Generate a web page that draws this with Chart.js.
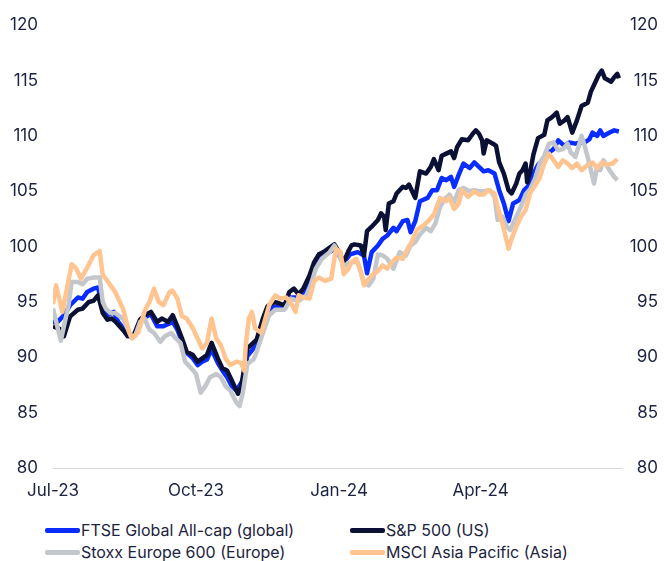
<!DOCTYPE html>
<html lang="en">
<head>
    <meta charset="UTF-8">
    <title>Equity indices</title>
    <script src="https://cdn.jsdelivr.net/npm/chart.js@4.4.1/dist/chart.umd.min.js"></script>
    <style>
        body { margin: 0; background: #fff; font-family: Inter, sans-serif; color: #1c2340; }
        #wrap { position: relative; width: 666px; height: 561px; }
        #legend { position: absolute; left: 45px; top: 520px; width: 620px; }
        .item { position: absolute; display: flex; align-items: center; font-size: 16px; white-space: nowrap; }
        .swatch { width: 35px; height: 5px; border-radius: 2px; margin-right: 1px; }
    </style>
    <script>
        // days counted from 1 Jul 2023
        var tickDays = [0, 92, 184, 275];
        var tickLabels = ['Jul-23', 'Oct-23', 'Jan-24', 'Apr-24'];
        var seriesNames = ['FTSE Global All-cap (global)', 'S&P 500 (US)', 'Stoxx Europe 600 (Europe)', 'MSCI Asia Pacific (Asia)'];
        var seriesColors = ['#0a2dff', '#0b1035', '#c3c7cc', '#ffc48f'];

        var ftseDays = [0, 3, 7, 11, 16, 19, 22, 26, 29, 32, 35, 39, 42, 47, 50, 53, 56, 59, 63, 67, 71, 77, 80, 83, 86, 90, 93, 96, 99, 102, 106, 109, 112, 115, 118, 122, 125, 129, 131, 135, 138, 142, 149, 153, 157, 161, 166, 169, 174, 179, 182, 186, 189, 191, 196, 200, 202, 205, 209, 212, 215, 219, 221, 225, 228, 230, 233, 236, 241, 244, 247, 250, 253, 256, 258, 261, 264, 268, 271, 274, 277, 280, 284, 287, 290, 293, 296, 300, 303, 306, 309, 312, 316, 319, 322, 325, 329, 332, 336, 339, 342, 345, 347, 350, 352, 354, 358, 361, 364];
        var ftseValues = [93.2, 93.2, 93.8, 94.7, 95.4, 95.3, 95.9, 96.2, 96.3, 94.4, 93.8, 94.1, 93.2, 92.3, 91.9, 92.0, 93.2, 93.6, 93.9, 92.8, 92.8, 93.2, 92.5, 91.4, 90.4, 89.9, 89.3, 89.6, 89.8, 90.7, 89.5, 88.8, 88.2, 87.4, 87.0, 87.9, 90.1, 90.8, 91.1, 93.1, 94.1, 94.6, 94.4, 95.4, 95.4, 95.7, 96.9, 98.3, 99.2, 99.6, 99.8, 98.7, 98.9, 99.3, 99.5, 99.2, 97.6, 99.5, 100.1, 100.7, 101.0, 101.7, 101.4, 102.3, 102.4, 101.3, 102.3, 104.1, 104.4, 105.1, 105.1, 106.2, 106.0, 106.3, 105.4, 106.5, 107.5, 107.1, 107.6, 107.2, 106.8, 106.9, 106.6, 105.1, 103.9, 102.3, 103.9, 104.2, 105.1, 105.5, 106.6, 107.4, 108.0, 108.5, 108.8, 109.6, 109.1, 109.4, 109.3, 109.4, 109.4, 109.7, 110.3, 110.0, 110.5, 110.0, 110.3, 110.5, 110.4];

        var spxDays = [0, 4, 7, 11, 16, 19, 23, 26, 29, 32, 35, 38, 41, 46, 48, 52, 56, 59, 63, 67, 70, 74, 77, 80, 83, 86, 90, 93, 96, 99, 102, 106, 109, 112, 115, 119, 121, 123, 125, 128, 131, 135, 138, 142, 145, 149, 152, 155, 158, 161, 165, 168, 171, 174, 178, 181, 184, 187, 190, 192, 194, 198, 200, 202, 205, 209, 211, 213, 214, 216, 219, 221, 225, 227, 229, 231, 233, 236, 240, 243, 245, 248, 250, 253, 256, 258, 260, 263, 267, 270, 272, 274, 276, 277, 279, 283, 285, 287, 290, 293, 295, 298, 300, 302, 304, 305, 307, 309, 312, 316, 318, 321, 324, 326, 329, 331, 334, 337, 340, 344, 346, 348, 351, 353, 355, 359, 361, 363, 364];
        var spxValues = [92.8, 92.6, 91.9, 93.7, 94.3, 94.4, 95.0, 95.1, 95.6, 94.0, 93.4, 93.5, 93.1, 92.3, 91.9, 92.0, 93.4, 93.8, 94.1, 93.2, 93.5, 93.2, 93.8, 92.8, 91.7, 90.5, 90.2, 89.6, 89.9, 90.2, 91.3, 89.9, 89.0, 88.8, 87.9, 86.7, 87.3, 89.0, 90.8, 91.2, 91.6, 93.5, 94.6, 95.0, 94.9, 94.7, 95.9, 96.2, 95.7, 96.2, 97.4, 98.6, 99.3, 99.5, 99.9, 100.2, 99.5, 98.6, 99.6, 100.1, 100.2, 100.1, 99.2, 101.4, 101.8, 102.4, 103.0, 102.7, 101.5, 103.9, 104.1, 104.8, 105.4, 105.3, 105.6, 105.0, 104.4, 106.8, 106.6, 107.2, 107.9, 106.9, 108.2, 108.4, 108.6, 108.0, 109.0, 109.7, 109.6, 110.2, 110.5, 110.2, 109.6, 108.4, 109.6, 109.3, 109.1, 107.6, 106.6, 105.1, 104.8, 105.7, 106.6, 106.9, 107.5, 105.8, 106.8, 108.3, 109.8, 110.1, 111.4, 111.7, 112.1, 111.1, 111.4, 111.7, 110.3, 111.4, 112.7, 113.0, 114.0, 114.6, 115.5, 115.9, 115.2, 114.9, 115.3, 115.6, 115.2];

        var stoxxDays = [0, 5, 10, 12, 16, 19, 22, 26, 30, 32, 34, 37, 40, 45, 48, 50, 53, 56, 59, 62, 65, 69, 72, 76, 79, 82, 85, 89, 92, 95, 98, 101, 105, 108, 111, 114, 118, 120, 122, 125, 129, 131, 136, 139, 143, 149, 153, 158, 163, 166, 169, 173, 178, 181, 184, 187, 190, 193, 196, 200, 203, 206, 209, 212, 215, 219, 223, 227, 230, 233, 236, 240, 243, 246, 249, 252, 255, 258, 261, 264, 268, 271, 274, 277, 281, 284, 286, 289, 292, 294, 298, 301, 304, 307, 310, 313, 316, 319, 322, 325, 328, 331, 333, 336, 338, 340, 342, 345, 348, 350, 352, 354, 358, 361, 363];
        var stoxxValues = [94.4, 91.5, 94.7, 96.8, 96.8, 96.6, 97.1, 97.2, 97.2, 95.0, 94.4, 94.0, 94.0, 93.5, 92.6, 91.9, 92.0, 93.2, 93.5, 92.5, 92.2, 91.4, 91.9, 92.2, 91.7, 91.3, 89.6, 89.0, 88.5, 86.8, 87.4, 88.2, 88.5, 88.2, 87.4, 87.0, 85.9, 85.6, 86.7, 89.4, 89.8, 90.5, 92.6, 93.8, 94.3, 94.3, 95.3, 95.1, 95.6, 96.6, 98.0, 98.9, 99.5, 100.1, 99.3, 98.2, 98.5, 98.6, 98.6, 96.8, 96.5, 97.1, 99.3, 99.2, 98.9, 98.0, 99.5, 99.2, 100.1, 100.4, 101.1, 101.7, 101.4, 102.1, 103.6, 104.3, 104.7, 104.0, 105.1, 105.3, 105.0, 105.1, 105.0, 105.0, 105.1, 104.5, 102.4, 102.7, 101.8, 101.5, 102.7, 103.6, 104.7, 105.2, 106.1, 107.5, 108.2, 109.3, 109.4, 108.7, 108.8, 109.3, 108.5, 108.1, 109.0, 110.0, 109.1, 107.5, 105.7, 107.2, 106.9, 107.8, 106.9, 106.3, 106.0];

        var asiaDays = [0, 2, 6, 12, 15, 18, 22, 26, 30, 32, 34, 37, 40, 45, 49, 51, 55, 59, 62, 65, 68, 71, 75, 77, 80, 83, 86, 90, 93, 96, 99, 102, 105, 108, 111, 114, 118, 121, 123, 124, 126, 128, 130, 134, 136, 139, 143, 146, 150, 153, 156, 158, 161, 165, 168, 171, 175, 179, 182, 185, 187, 190, 192, 195, 198, 200, 202, 205, 209, 212, 215, 218, 221, 225, 228, 231, 234, 239, 242, 245, 249, 253, 255, 258, 261, 263, 267, 271, 274, 277, 280, 284, 286, 289, 291, 293, 295, 298, 301, 304, 307, 310, 313, 316, 319, 322, 325, 328, 331, 334, 337, 340, 344, 347, 350, 353, 356, 360, 363];
        var asiaValues = [94.8, 96.5, 94.1, 98.4, 98.0, 97.1, 98.1, 99.2, 99.6, 97.4, 97.1, 96.5, 95.9, 94.4, 92.3, 91.7, 92.3, 94.2, 95.0, 96.2, 95.0, 94.7, 95.9, 96.0, 95.3, 93.7, 93.5, 92.6, 91.7, 90.8, 91.3, 93.5, 91.7, 91.1, 89.9, 89.3, 89.6, 89.5, 88.8, 91.1, 93.5, 94.1, 92.6, 92.2, 93.2, 94.7, 95.6, 95.3, 95.4, 94.9, 94.1, 95.6, 95.4, 95.3, 96.9, 97.2, 96.9, 97.1, 99.8, 99.5, 97.5, 98.0, 98.6, 98.9, 97.7, 96.5, 96.9, 97.4, 97.8, 98.3, 98.0, 98.6, 99.0, 98.9, 99.8, 100.5, 101.5, 102.0, 102.4, 102.9, 104.4, 104.1, 104.4, 103.4, 103.9, 105.1, 104.5, 105.0, 104.7, 104.7, 105.1, 104.8, 103.6, 102.1, 101.0, 99.8, 100.7, 101.8, 102.7, 103.3, 104.9, 105.5, 106.2, 107.5, 108.4, 107.8, 107.2, 107.8, 107.5, 107.1, 107.5, 106.9, 107.4, 107.6, 107.1, 107.6, 107.4, 107.5, 107.9];

        function toPoints(days, values) {
            var pts = [];
            for (var i = 0; i < days.length; i++) {
                pts.push({x: days[i], y: values[i]});
            }
            return pts;
        }

        window.onload = function () {
            var fontBase = {family: 'Inter', size: 17};
            var ink = '#1c2340';
            var allDays = [ftseDays, spxDays, stoxxDays, asiaDays];
            var allValues = [ftseValues, spxValues, stoxxValues, asiaValues];

            var datasets = [];
            for (var s = 0; s < seriesNames.length; s++) {
                datasets.push({
                    label: seriesNames[s],
                    data: toPoints(allDays[s], allValues[s]),
                    borderColor: seriesColors[s],
                    backgroundColor: seriesColors[s],
                    borderWidth: 4.5,
                    pointRadius: 0,
                    tension: 0,
                    borderJoinStyle: 'round',
                    order: seriesNames.length - s,
                    yAxisID: 'y'
                });
            }

            var ctx = document.getElementById('myChart');
            new Chart(ctx, {
                type: 'line',
                data: {datasets: datasets},
                options: {
                    responsive: false,
                    animation: false,
                    devicePixelRatio: 1,
                    layout: {padding: {left: 7, right: 8, top: 12, bottom: 4}},
                    plugins: {legend: {display: false}, tooltip: {enabled: false}},
                    scales: {
                        x: {
                            type: 'linear',
                            min: 0,
                            max: 366,
                            afterBuildTicks: function (axis) {
                                axis.ticks = tickDays.map(function (d) { return {value: d}; });
                            },
                            afterFit: function (axis) { axis.height = 33; },
                            ticks: {
                                font: fontBase,
                                color: ink,
                                padding: 13,
                                maxRotation: 0,
                                callback: function (v) { return tickLabels[tickDays.indexOf(v)]; }
                            },
                            grid: {display: false, drawTicks: false},
                            border: {display: true, color: '#d9d9d9', width: 1}
                        },
                        y: {
                            position: 'left',
                            min: 80,
                            max: 120,
                            afterFit: function (axis) { axis.width = 46; },
                            ticks: {stepSize: 5, font: fontBase, color: ink, padding: 15},
                            grid: {display: false, drawTicks: false},
                            border: {display: false}
                        },
                        y2: {
                            position: 'right',
                            min: 80,
                            max: 120,
                            afterFit: function (axis) { axis.width = 36; },
                            ticks: {stepSize: 5, font: fontBase, color: ink, padding: 5, crossAlign: 'far'},
                            grid: {display: false, drawTicks: false},
                            border: {display: false}
                        }
                    }
                }
            });

            // legend in two columns under the chart
            var legend = document.getElementById('legend');
            var cols = [0, 305];
            var rows = [0, 22];
            for (var i = 0; i < seriesNames.length; i++) {
                var item = document.createElement('div');
                item.className = 'item';
                item.style.left = cols[i % 2] + 'px';
                item.style.top = rows[Math.floor(i / 2)] + 'px';
                item.innerHTML = '<span class="swatch" style="background:' + seriesColors[i] + '"></span>' + seriesNames[i];
                legend.appendChild(item);
            }
        };
    </script>
</head>
<body>
    <div id="wrap">
        <canvas id="myChart" width="666" height="505"></canvas>
        <div id="legend"></div>
    </div>
</body>
</html>
